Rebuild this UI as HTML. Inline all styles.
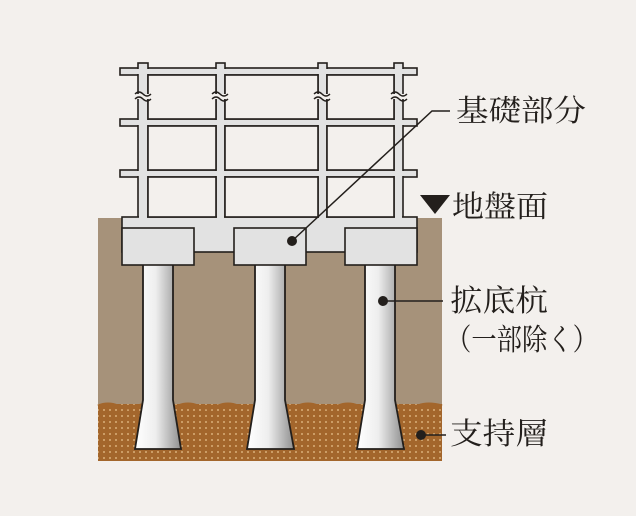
<!DOCTYPE html>
<html><head><meta charset="utf-8"><style>
html,body{margin:0;padding:0;background:#f3f0ed;}
svg{display:block}
text{font-family:"Liberation Serif","Noto Serif CJK SC","Noto Serif CJK JP",serif;fill:#231f1c;font-size:30px}
</style></head><body>
<svg width="636" height="516" viewBox="0 0 636 516" xmlns="http://www.w3.org/2000/svg">
<defs>
<pattern id="dots" width="6" height="6" patternUnits="userSpaceOnUse">
<rect width="6" height="6" fill="#a3662c"/>
<circle cx="2" cy="2" r="0.9" fill="#e9c48f"/>
</pattern>
<linearGradient id="pg" x1="0" x2="1">
<stop offset="0" stop-color="#ffffff"/><stop offset="0.45" stop-color="#eeeeee"/><stop offset="1" stop-color="#8f8f8f"/>
</linearGradient>
</defs>
<rect width="636" height="516" fill="#f3f0ed"/>
<rect x="98" y="218" width="344" height="188" fill="#a6927a"/>
<rect x="98" y="404" width="344" height="57" fill="url(#dots)"/>
<path d="M98 406 q10 -4 20 0 t20 0 t20 0 t20 0 t20 0 t20 0 t20 0 t20 0 t20 0 t20 0 t20 0 t20 0 t20 0 t20 0 t20 0 t20 0 t24 0" fill="none" stroke="#a3662c" stroke-width="3"/>

<g stroke="#231f1c" stroke-width="1.8" fill="url(#pg)">
<path d="M143 262 L173 262 L173 400 L181 449 L135 449 L143 400 Z"/>
<path d="M255 262 L285 262 L285 400 L294 449 L247 449 L255 400 Z"/>
<path d="M365 262 L395 262 L395 400 L404 449 L357 449 L365 400 Z"/>
</g>

<g stroke="#231f1c" stroke-width="1.6" fill="#e2e2e2">
<rect x="120" y="68" width="297" height="7"/>
<rect x="120" y="119" width="297" height="7"/>
<rect x="120" y="170" width="297" height="7"/>
<rect x="138" y="63" width="10" height="160"/>
<rect x="216" y="63" width="9" height="160"/>
<rect x="318" y="63" width="9" height="160"/>
<rect x="394" y="63" width="9" height="160"/>
<rect x="122" y="217" width="295" height="35"/>
</g>
<g fill="#e2e2e2">
<rect x="121" y="69" width="295" height="5"/>
<rect x="121" y="120" width="295" height="5"/>
<rect x="121" y="171" width="295" height="5"/>
<rect x="139" y="64" width="8" height="160"/>
<rect x="217" y="64" width="7" height="160"/>
<rect x="319" y="64" width="7" height="160"/>
<rect x="395" y="64" width="7" height="160"/>
<rect x="123" y="218" width="293" height="33"/>
</g>
<g stroke="#231f1c" stroke-width="1.6" fill="#f3f0ed">
<rect x="148" y="75" width="68" height="44"/>
<rect x="225" y="75" width="93" height="44"/>
<rect x="327" y="75" width="67" height="44"/>
<rect x="148" y="126" width="68" height="44"/>
<rect x="225" y="126" width="93" height="44"/>
<rect x="327" y="126" width="67" height="44"/>
<rect x="148" y="177" width="68" height="40"/>
<rect x="225" y="177" width="93" height="40"/>
<rect x="327" y="177" width="67" height="40"/>
</g>
<g fill="#f3f0ed">
<rect x="137" y="94" width="12" height="5"/>
<rect x="215" y="94" width="11" height="5"/>
<rect x="317" y="94" width="11" height="5"/>
<rect x="393" y="94" width="11" height="5"/>
</g>
<g stroke="#231f1c" stroke-width="1.4" fill="none">
<path d="M135 94 q4 -4 8 0 t8 0"/><path d="M135 99 q4 -4 8 0 t8 0"/>
<path d="M212 94 q4 -4 8 0 t8 0"/><path d="M212 99 q4 -4 8 0 t8 0"/>
<path d="M314 94 q4 -4 8 0 t8 0"/><path d="M314 99 q4 -4 8 0 t8 0"/>
<path d="M391 94 q4 -4 8 0 t8 0"/><path d="M391 99 q4 -4 8 0 t8 0"/>
</g>
<g stroke="#231f1c" stroke-width="1.6" fill="#e2e2e2">
<rect x="122" y="228" width="72" height="37"/>
<rect x="234" y="228" width="72" height="37"/>
<rect x="345" y="228" width="72" height="37"/>
</g>

<g stroke="#231f1c" stroke-width="1.5" fill="none">
<path d="M292 241 L432 111 L450 111"/>
<path d="M383 301 L443 301"/>
<path d="M421 435 L446 435"/>
</g>
<g fill="#231f1c">
<circle cx="292" cy="241" r="5"/>
<circle cx="383" cy="301" r="5"/>
<circle cx="421" cy="435" r="5"/>
<path d="M420 195 L450 195 L435 214 Z"/>
</g>

<text x="456" y="121" textLength="130" lengthAdjust="spacingAndGlyphs">基礎部分</text>
<text x="452" y="217" textLength="96" lengthAdjust="spacingAndGlyphs">地盤面</text>
<text x="450" y="311" textLength="98" lengthAdjust="spacingAndGlyphs">拡底杭</text>
<text x="446" y="350" textLength="152" lengthAdjust="spacingAndGlyphs">（一部除く）</text>
<text x="450" y="444" textLength="98" lengthAdjust="spacingAndGlyphs">支持層</text>
</svg>
</body></html>
